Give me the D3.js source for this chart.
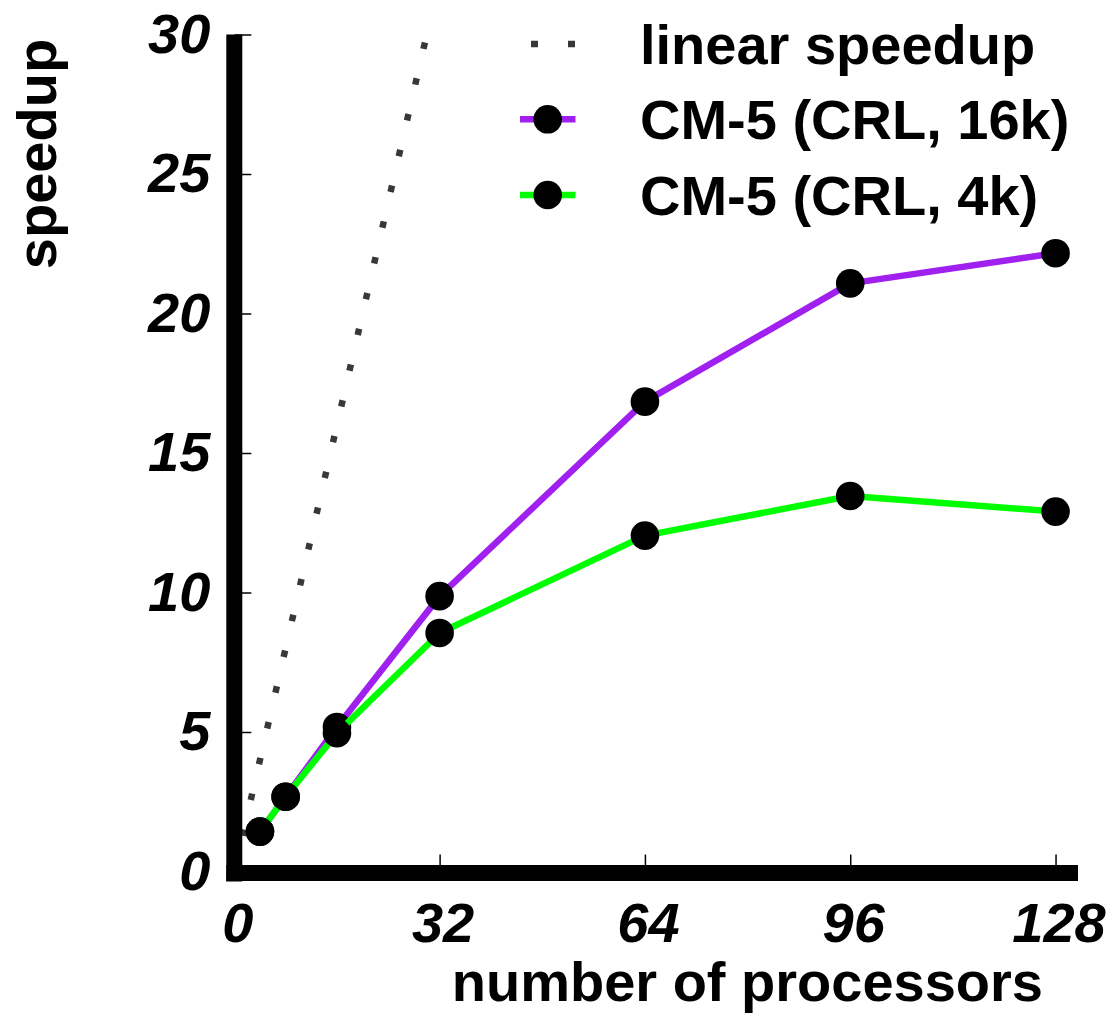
<!DOCTYPE html>
<html>
<head>
<meta charset="utf-8">
<script src="https://cdn.jsdelivr.net/npm/d3@7"></script>
<style>
  body { margin: 0; background: #fff; }
  text { font-family: "Liberation Sans", Arial, Helvetica, sans-serif; font-weight: bold; }
</style>
</head>
<body>
<div id="container"></div>
<script>
/*
    Chart data
*/
var procs = [4, 8, 16, 32, 64, 96, 128];
var crl16k = [1.43, 2.68, 5.18, 9.87, 16.84, 21.08, 22.16];
var crl4k = [1.43, 2.68, 4.96, 8.55, 12.04, 13.46, 12.9];
var linearX = [0, 30];
var xTicks = [0, 32, 64, 96, 128];
var yTicks = [0, 5, 10, 15, 20, 25, 30];
var legendLabels = ["linear speedup", "CM-5 (CRL, 16k)", "CM-5 (CRL, 4k)"];

var width = 1115, height = 1030;

var svg = d3.select("#container").append("svg")
    .attr("width", width)
    .attr("height", height);

var x = d3.scaleLinear().domain([0, 131.5]).range([234.3, 1078]);
var y = d3.scaleLinear().domain([0, 30]).range([871.5, 34.5]);

/*
    Axes: ticks point inward, labels bold italic
*/
var yAxis = d3.axisLeft(y)
    .tickValues(yTicks)
    .tickSizeInner(-17)
    .tickSizeOuter(0)
    .tickPadding(24);

var xAxis = d3.axisBottom(x)
    .tickValues(xTicks)
    .tickSizeInner(-17)
    .tickSizeOuter(0)
    .tickPadding(31);

var gy = svg.append("g")
    .attr("transform", "translate(" + x(0) + ",0)")
    .call(yAxis);
var gx = svg.append("g")
    .attr("transform", "translate(0," + y(0) + ")")
    .call(xAxis);

[gx, gy].forEach(function (g) {
    g.select(".domain").remove();
    g.selectAll(".tick line").attr("stroke", "#000").attr("stroke-width", 1.5);
    g.selectAll(".tick text")
        .attr("fill", "#000")
        .style("font-size", "56px")
        .style("font-style", "italic")
        .style("font-family", "'Liberation Sans', Arial, sans-serif")
        .style("font-weight", "bold");
});
gx.selectAll(".tick text").attr("dx", 3);

/*
    Linear speedup (dotted), under the border
*/
var line = d3.line()
    .x(function (d) { return x(d[0]); })
    .y(function (d) { return y(d[1]); });

svg.append("path")
    .datum(linearX.map(function (v) { return [v, v]; }))
    .attr("d", line)
    .attr("fill", "none")
    .attr("stroke", "#383838")
    .attr("stroke-width", 6.5)
    .attr("stroke-dasharray", "6.5 30.2");

/*
    Thick border lines
*/
svg.append("line")
    .attr("x1", x(0)).attr("x2", x(0))
    .attr("y1", y(30)).attr("y2", y(0) + 10)
    .attr("stroke", "#000").attr("stroke-width", 16);
svg.append("line")
    .attr("x1", x(0) - 8).attr("x2", x(131.5))
    .attr("y1", y(0) + 1.5).attr("y2", y(0) + 1.5)
    .attr("stroke", "#000").attr("stroke-width", 16);

/*
    Measured series
*/
var series = [
    { values: crl16k, color: "#a020f0" },
    { values: crl4k, color: "#00ff00" }
];

series.forEach(function (s) {
    var pts = procs.map(function (p, i) { return [p, s.values[i]]; });
    svg.append("path")
        .datum(pts)
        .attr("d", line)
        .attr("fill", "none")
        .attr("stroke", s.color)
        .attr("stroke-width", 6.5)
        .attr("stroke-linejoin", "round");
    svg.selectAll(null)
        .data(pts)
        .enter().append("circle")
        .attr("cx", function (d) { return x(d[0]); })
        .attr("cy", function (d) { return y(d[1]); })
        .attr("r", 14.3)
        .attr("fill", "#000");
});

/*
    Legend
*/
var legendY = [44, 119.3, 195];
var leg = svg.append("g");

leg.append("line")
    .attr("x1", 531).attr("x2", 576)
    .attr("y1", legendY[0]).attr("y2", legendY[0])
    .attr("stroke", "#383838").attr("stroke-width", 6.5)
    .attr("stroke-dasharray", "7 30");

series.forEach(function (s, i) {
    var ly = legendY[i + 1];
    leg.append("line")
        .attr("x1", 520).attr("x2", 575.5)
        .attr("y1", ly).attr("y2", ly)
        .attr("stroke", s.color).attr("stroke-width", 6.5);
    leg.append("circle")
        .attr("cx", 547.7).attr("cy", ly).attr("r", 14.3)
        .attr("fill", "#000");
});

leg.selectAll("text")
    .data(legendLabels)
    .enter().append("text")
    .attr("x", 640)
    .attr("y", function (d, i) { return legendY[i] + 20; })
    .style("font-size", "56px")
    .text(function (d) { return d; });

/*
    Axis titles
*/
svg.append("text")
    .attr("x", 1043).attr("y", 1001)
    .attr("text-anchor", "end")
    .style("font-size", "56px")
    .text("number of processors");

svg.append("text")
    .attr("transform", "translate(56,154) rotate(-90)")
    .attr("text-anchor", "middle")
    .style("font-size", "56px")
    .text("speedup");
</script>
</body>
</html>
